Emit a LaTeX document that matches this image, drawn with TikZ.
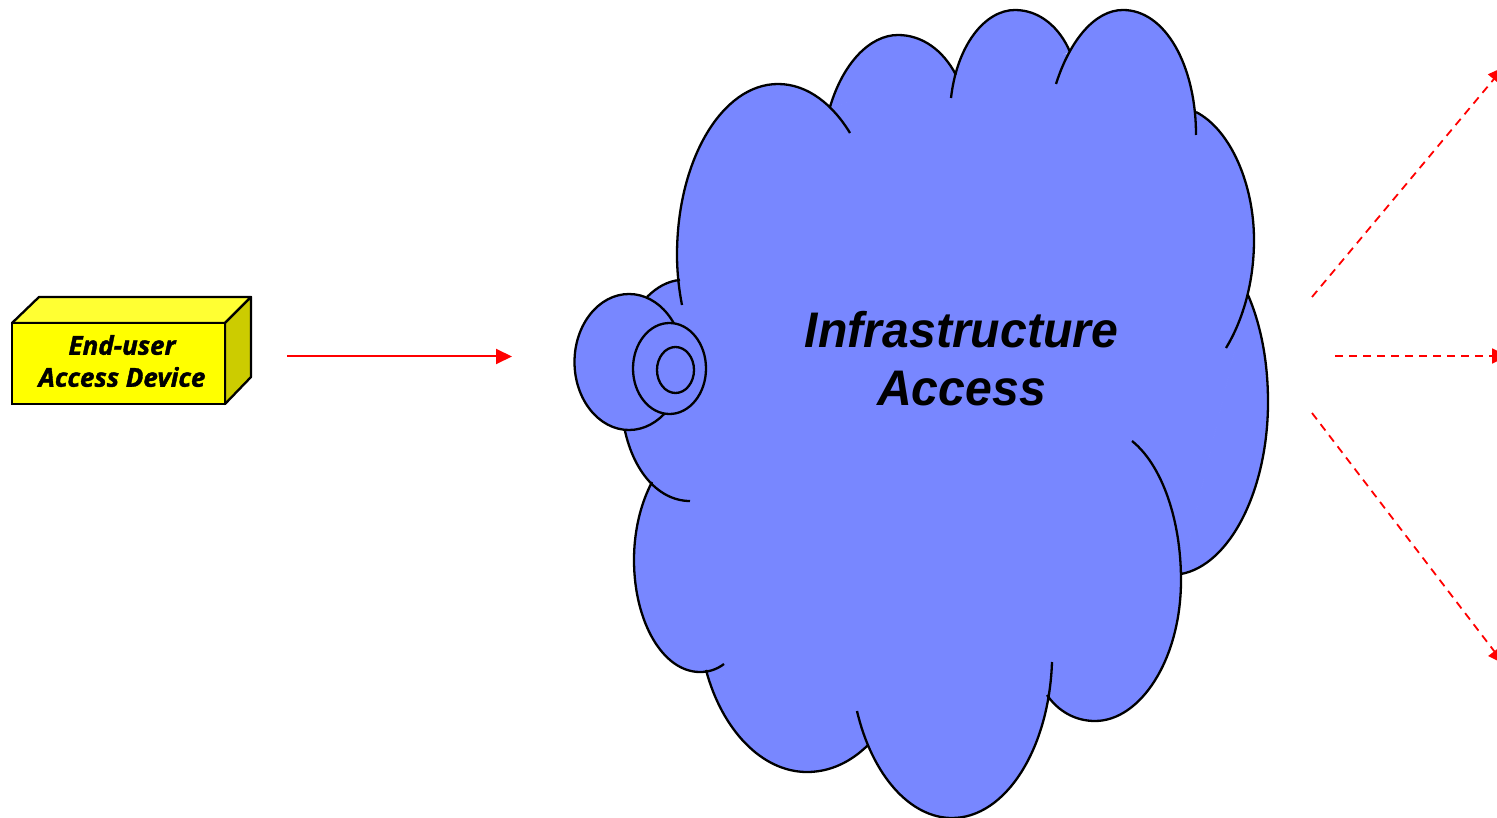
\documentclass[tikz,border=0pt]{standalone}
\usepackage{fontspec}
\setmainfont{Liberation Sans}
\newfontfamily\cloudfont[FakeStretch=0.963]{Liberation Sans}
\newfontfamily\devicefont[BoldItalicFeatures={FakeBold=1.5}]{Open Sans}
\usetikzlibrary{arrows.meta, shapes.geometric}
\definecolor{cloudblue}{HTML}{7887FF}
\definecolor{boxfront}{HTML}{FFFF00}
\definecolor{boxtop}{HTML}{FFFF33}
\definecolor{boxside}{HTML}{CCCC00}
\newcommand{\cloudlobes}{
  (682,305) .. controls (679,290) and (677,272) .. (677,255)
    .. controls (677,160) and (722,84) .. (778,84)
    .. controls (808,84) and (833,105) .. (850,133)
  (830,107) .. controls (843,63) and (870,35) .. (898,35)
    .. controls (922,35) and (943,50) .. (956,75)
  (951,98) .. controls (957,45) and (985,10) .. (1015,10)
    .. controls (1040,10) and (1060,28) .. (1070,52)
  (1056,84) .. controls (1070,40) and (1095,10) .. (1123,10)
    .. controls (1165,10) and (1196,65) .. (1196,135)
  (1196,112) .. controls (1231,130) and (1254,185) .. (1254,240)
    .. controls (1254,282) and (1243,320) .. (1226,348)
  (1248,295) .. controls (1261,325) and (1268,362) .. (1268,402)
    .. controls (1268,490) and (1230,565) .. (1181,574)
  (1132,441) .. controls (1162,465) and (1181,520) .. (1181,580)
    .. controls (1181,660) and (1140,721) .. (1095,721)
    .. controls (1075,721) and (1058,711) .. (1047,695)
  (1052,662) .. controls (1049,750) and (1005,818) .. (952,818)
    .. controls (910,818) and (872,775) .. (857,711)
  (868,745) .. controls (851,762) and (830,772) .. (807,772)
    .. controls (762,772) and (722,730) .. (706,670)
  (724,664) .. controls (716,670) and (708,672) .. (700,672)
    .. controls (663,672) and (634,622) .. (634,560)
    .. controls (634,530) and (641,503) .. (652,482)
  (690,501) .. controls (657,501) and (630,468) .. (623,420)
  (647,297) .. controls (657,287) and (668,281) .. (680,280)
}
\begin{document}
\begin{tikzpicture}[x=1pt,y=-1pt,line width=2.3pt,>={Triangle[length=16pt,width=15pt]},
    dish/.style={ellipse,draw,fill=cloudblue,inner sep=0pt},
    link/.style={->,red,line width=2pt},
    dashlink/.style={->,red,line width=1.8pt,dash pattern=on 8pt off 6pt}]
    \useasboundingbox (0,0) rectangle (1497,818);
    \clip (0,0) rectangle (1497,818);
    \fill[cloudblue] \cloudlobes;
    \filldraw[cloudblue,line width=1pt] (678,280) -- (831,107) -- (955,74) -- (1069,54) -- (1196,112) -- (1248,295)
        -- (1181,574) -- (1047,695) -- (867,746) -- (706,670) -- (652,482) -- (623,420) -- (648,297) -- cycle;
    \draw \cloudlobes;
    \node[dish,minimum width=109pt,minimum height=136pt] (outerdish) at (629,362) {};
    \node[dish,minimum width=73pt,minimum height=91pt] (middledish) at (669.5,368.5) {};
    \node[dish,minimum width=37pt,minimum height=46pt] (innerdish) at (675.5,370) {};
    \node[align=center,font=\cloudfont\fontsize{50}{58}\selectfont\bfseries\itshape] (cloudlabel) at (961.5,359) {Infrastructure\\Access};
    \draw[fill=boxtop,line join=round] (12,323) -- (39,297) -- (251,297) -- (225,323) -- cycle;
    \draw[fill=boxside,line join=round] (225,323) -- (251,297) -- (251,377) -- (225,404) -- cycle;
    \node[draw,fill=boxfront,minimum width=213pt,minimum height=81pt,inner sep=0pt] (device) at (118.5,363.5) {};
    \node[align=center,font=\devicefont\fontsize{26}{32}\selectfont\bfseries\itshape] (devicelabel) at (122,361) {End-user\\Access Device};
    \coordinate (linkstart) at (287,356.5);
    \coordinate (linkend) at (512,356.5);
    \coordinate (upstart) at (1312,297);
    \coordinate (upend) at (1504,67);
    \coordinate (midstart) at (1335,356);
    \coordinate (midend) at (1508,356);
    \coordinate (downstart) at (1312,413);
    \coordinate (downend) at (1504,664);
    \draw[link] (linkstart) -- (linkend);
    \draw[dashlink] (upstart) -- (upend);
    \draw[dashlink] (midstart) -- (midend);
    \draw[dashlink] (downstart) -- (downend);
\end{tikzpicture}
\end{document}
